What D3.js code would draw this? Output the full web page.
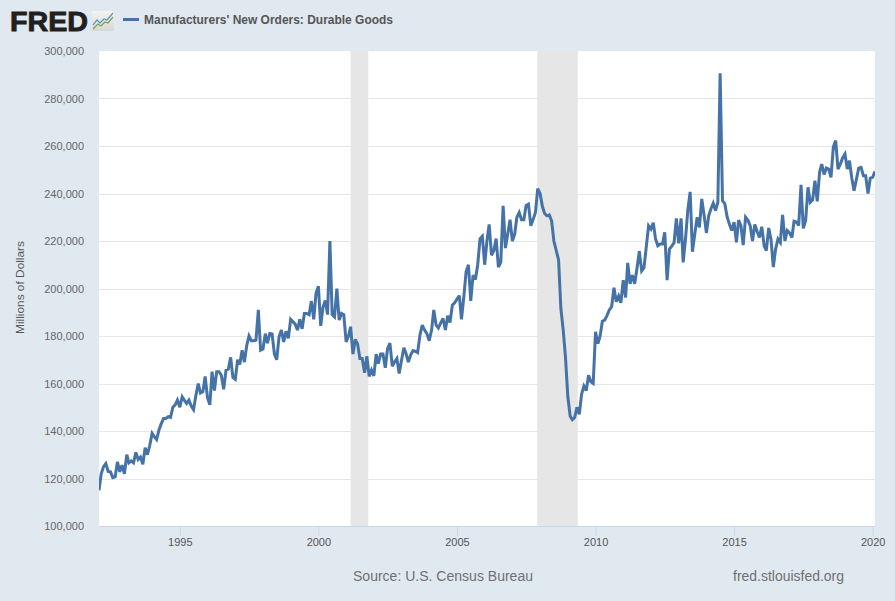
<!DOCTYPE html>
<html>
<head>
<meta charset="utf-8">
<script src="https://cdnjs.cloudflare.com/ajax/libs/d3/7.8.5/d3.min.js"></script>
<style>
html,body{margin:0;padding:0;background:#e1e9f0;overflow:hidden}
svg{display:block;font-family:"Liberation Sans",Arial,sans-serif}
</style>
</head>
<body>
<svg id="chart" width="895" height="601"></svg>
<script>
const seriesName = "Manufacturers' New Orders: Durable Goods";
const yAxisTitle = "Millions of Dollars";
const sourceText = "Source: U.S. Census Bureau";
const siteText = "fred.stlouisfed.org";
const firstMonth = [1992, 1];          // year, zero-based month
const yTicks = [100000,120000,140000,160000,180000,200000,220000,240000,260000,280000,300000];
const xTickYears = [1995,2000,2005,2010,2015,2020];
const recessions = [["2001-03-01","2001-10-20"],["2007-11-25","2009-05-12"]];
// Monthly new orders, in billions of dollars
const orders1992to1996 = [115,122,125,126.3,123,122.8,120.4,120.7,127,122.8,125.6,122,130,126.6,127.4,126.6,131,128,129,126,133,130,134,139,137.5,136.4,140.4,143,145.3,145.3,146,145.7,150,151,153,150,154.4,153,151.6,153,150.5,149,155,160,156,156.5,163,154,151,165,157,165,165,163.5,157.6,165.6,166,171,162.5,161.7];
const orders1997to2001 = [170,168,174,169,176,180,178,178,178.3,191,174,174.5,181,177,181,180.8,172.4,170,179.7,182.5,177.5,182,179,187,186,185,182.5,187,183,189.5,189.5,189,194.7,187,198,201,184.3,192,195,189,220,189,188,200,186.7,189.5,189,177.5,180,183.9,172.4,178.5,176.6,170.5,170.5,164.5,171.5,163,165.6,163.2];
const orders2002to2006 = [172.4,168.4,172.4,172.4,166.6,174.7,177,167.3,169,170.5,164.2,169.8,175,172.6,169,172,173.8,173.6,173,180.4,184.6,182.5,181,178,182.5,191,184.6,183.4,185.5,187.4,182.5,188.5,185.7,193,194,195.5,197,187,196.5,207,210,194.8,205.6,203.8,210,221,222,210,220.4,227,214,216,221,209,211,234.8,217,223,229,220];
const orders2007to2011 = [223,230,232,229,229,235,235.5,226.4,229,232,242,240,234.5,231.6,230.6,231,228.5,220,216,212,191.6,182.5,171,154.4,146.2,144.8,145.7,150,147,155.5,158.9,157,163.5,160.7,160,181.8,176.8,179.8,186.2,186.7,188.6,191,192.3,200.3,194.4,196.8,194,203.5,196.2,210.8,202,205.6,202,208.4,215.7,207.4,208.7,217.6,226.4,225];
const orders2012to2016 = [227.7,221,218,218.7,218.7,223.7,203.5,216.6,217.8,219.3,229.5,219,229.5,211,221,233,240.7,215.5,223,230,225.7,237.7,231,223.4,230.7,233.5,235.9,232.8,236.3,290.6,237,235.6,230.2,227,224.4,227.9,219.4,228.8,226.5,218.3,230,228.8,226.5,220,227,224,221.5,226,218,216,225.5,220.8,209,216.6,220.8,219.4,231,220,224.4,223.4];
const orders2017to2020 = [221.5,228.3,228,226.5,243.7,225.3,228.6,242.6,236.3,237.3,245.4,236.7,249,252.4,248,250.7,250.3,246.8,259.5,262.3,250.3,252.4,255,256.6,250.3,253.8,246.5,241.2,246,250.7,251,247.5,247.5,240,246.5,246.8,249.3];

const orders = [].concat(orders1992to1996,orders1997to2001,orders2002to2006,orders2007to2011,orders2012to2016,orders2017to2020)
  .map(v => v * 1000);
const series = orders.map((v,i) => ({date:new Date(Date.UTC(firstMonth[0],firstMonth[1]+i,1)), value:v}));

const margin = {left:99, right:20, top:51, bottom:75};
const W = 895, H = 601;
const svg = d3.select("#chart");
svg.append("rect").attr("width",W).attr("height",H).attr("fill","#e1e9f0");

const x = d3.scaleUtc().domain(d3.extent(series,d=>d.date)).range([margin.left,W-margin.right]);
const y = d3.scaleLinear().domain([100000,300000]).range([H-margin.bottom,margin.top]);

svg.append("rect").attr("x",margin.left).attr("y",margin.top)
  .attr("width",W-margin.right-margin.left).attr("height",H-margin.bottom-margin.top).attr("fill","#fff");

// recession bands
svg.append("g").selectAll("rect").data(recessions).join("rect")
  .attr("x",d=>x(new Date(d[0]))).attr("y",margin.top)
  .attr("width",d=>x(new Date(d[1]))-x(new Date(d[0])))
  .attr("height",H-margin.bottom-margin.top).attr("fill","#e6e6e6");

// grid
svg.append("g").selectAll("line").data(yTicks.filter(t=>t>100000 && t<300000)).join("line")
  .attr("x1",margin.left).attr("x2",W-margin.right)
  .attr("y1",d=>Math.round(y(d))+0.5).attr("y2",d=>Math.round(y(d))+0.5)
  .attr("stroke","#e6e6e6").attr("stroke-width",1);

// y axis
const yAxis = d3.axisLeft(y).tickValues(yTicks).tickFormat(d3.format(",")).tickSize(0).tickPadding(15);
const gy = svg.append("g").attr("transform",`translate(${margin.left},0)`).call(yAxis);
gy.select(".domain").remove();
gy.selectAll("text").attr("fill","#666").style("font-size","11px").style("font-family","'Liberation Sans',Arial,sans-serif");

// x axis
const xAxis = d3.axisBottom(x).tickValues(xTickYears.map(yr=>new Date(Date.UTC(yr,0,1))))
  .tickFormat(d3.utcFormat("%Y")).tickSize(10).tickPadding(2);
const gx = svg.append("g").attr("transform",`translate(0,${H-margin.bottom})`).call(xAxis);
gx.select(".domain").attr("stroke","#ccd6eb").attr("d",`M${margin.left},0.5H${W-margin.right}`);
gx.selectAll(".tick line").attr("stroke","#ccd6eb");
gx.selectAll("text").attr("fill","#555").style("font-size","11px").style("font-family","'Liberation Sans',Arial,sans-serif");

// line
svg.append("clipPath").attr("id","plot").append("rect")
  .attr("x",margin.left).attr("y",margin.top-2).attr("width",W-margin.right-margin.left).attr("height",H-margin.bottom-margin.top+4);
svg.append("path").datum(series)
  .attr("clip-path","url(#plot)")
  .attr("fill","none").attr("stroke","#4572a7").attr("stroke-width",3).attr("stroke-linejoin","miter").attr("stroke-miterlimit",3)
  .attr("d",d3.line().x(d=>x(d.date)).y(d=>y(d.value)));

// y title
svg.append("text").attr("transform","translate(24,287.5) rotate(-90)")
  .attr("text-anchor","middle").attr("fill","#555").style("font-size","11.5px")
  .attr("textLength",93).attr("lengthAdjust","spacingAndGlyphs").text(yAxisTitle);

// legend
svg.append("line").attr("x1",123).attr("x2",139).attr("y1",19.5).attr("y2",19.5).attr("stroke","#4572a7").attr("stroke-width",3);
svg.append("text").attr("x",144).attr("y",23.5).attr("fill","#555").style("font-size","12px").style("font-weight","bold")
  .attr("textLength",249).attr("lengthAdjust","spacingAndGlyphs").text(seriesName);

// FRED logo
svg.append("text").attr("x",10).attr("y",30.5).attr("fill","#231f20")
  .style("font-size","27px").style("font-weight","bold").style("font-family","'Liberation Sans',Arial,sans-serif")
  .style("stroke","#231f20").style("stroke-width","0.9px")
  .attr("textLength",78).attr("lengthAdjust","spacingAndGlyphs").text("FRED");
const defs = svg.append("defs");
const grad = defs.append("linearGradient").attr("id","ig").attr("x1",0).attr("y1",0).attr("x2",0).attr("y2",1);
grad.append("stop").attr("offset",0).attr("stop-color","#f4f4f2");
grad.append("stop").attr("offset",1).attr("stop-color","#d5d8d2");
const icon = svg.append("g").attr("transform","translate(92,11)");
icon.append("rect").attr("width",22).attr("height",20).attr("rx",1.5).attr("fill","url(#ig)");
icon.append("path").attr("d","M1,14 L5,9 L8,12 L12,8 L15,9 L21,2").attr("fill","none").attr("stroke","#5b8fc0").attr("stroke-width",1.2);
icon.append("path").attr("d","M1,18 L6,13 L9,15 L13,11 L16,12 L21,6").attr("fill","none").attr("stroke","#7ba05b").attr("stroke-width",1.2);

// footer
svg.append("text").attr("x",353).attr("y",581).attr("fill","#707070").style("font-size","14px")
  .attr("textLength",180).attr("lengthAdjust","spacingAndGlyphs").text(sourceText);
svg.append("text").attr("x",733).attr("y",581).attr("fill","#707070").style("font-size","14px")
  .attr("textLength",111).attr("lengthAdjust","spacingAndGlyphs").text(siteText);
</script>
</body>
</html>
